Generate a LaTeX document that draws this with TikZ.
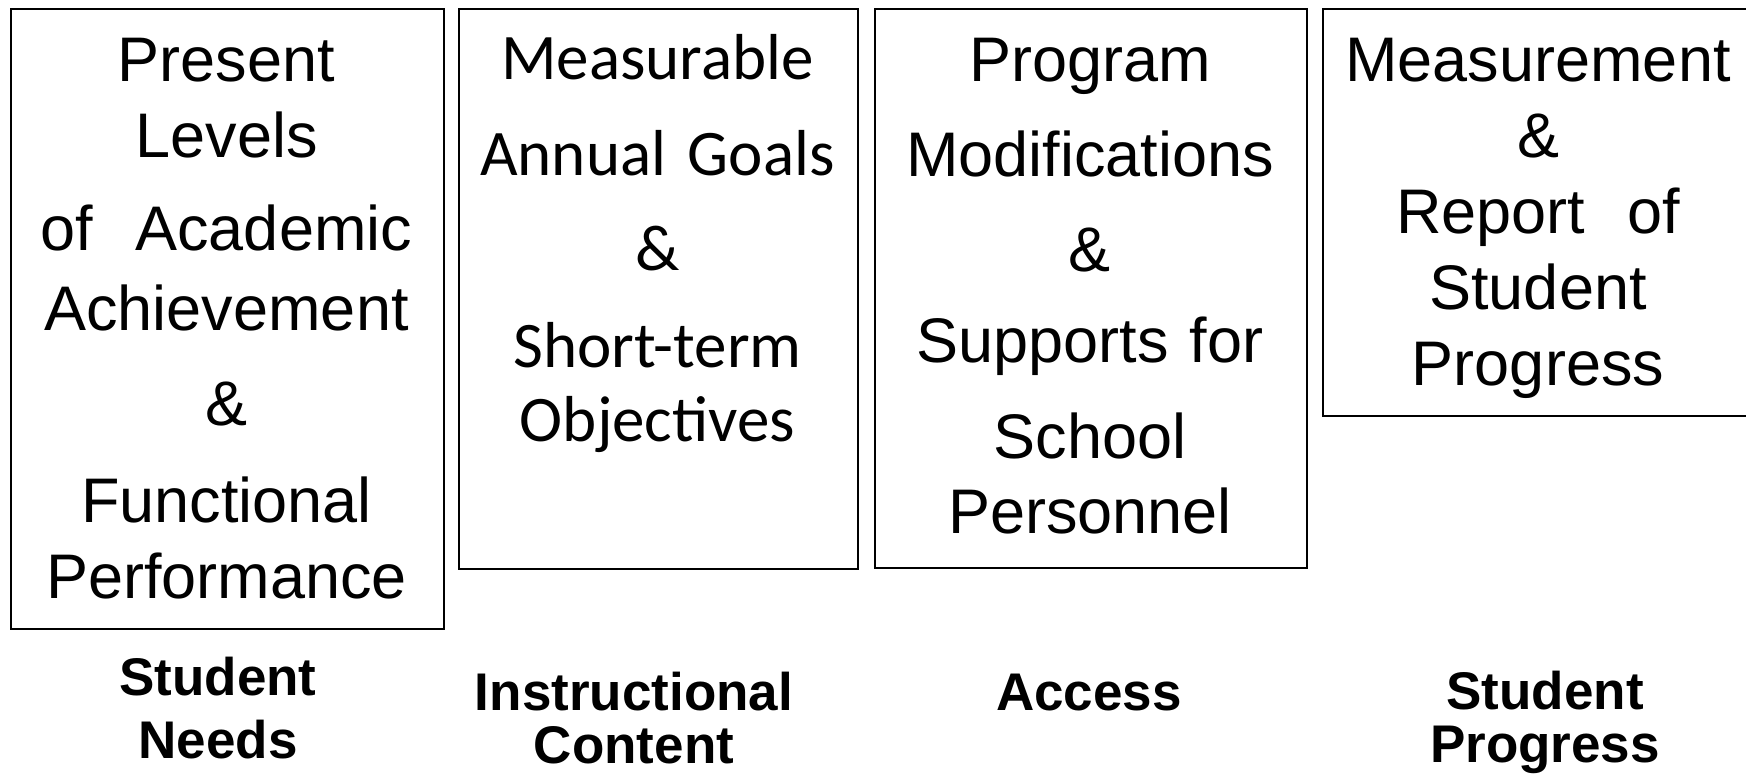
\documentclass[tikz,border=0pt]{standalone}
\usepackage{fontspec}
\setmainfont{Liberation Sans}
\newfontfamily\calibfont{Carlito}
\begin{document}
\begin{tikzpicture}[x=1pt,y=-1pt,
  box/.style={draw=black, line width=1.8pt, rectangle, inner sep=0pt, anchor=north west},
  boxtext/.style={anchor=base, inner sep=0pt, align=center, text width=425pt,
    font=\fontsize{63}{76}\selectfont},
  goaltext/.style={anchor=base, inner sep=0pt, align=center, text width=390pt,
    font=\calibfont\fontsize{65}{74}\selectfont},
  label/.style={anchor=base, inner sep=0pt, align=center, text width=400pt,
    font=\bfseries\fontsize{53}{56}\selectfont}]
\useasboundingbox (0,0) rectangle (1746,777);
% boxes
\node[box, minimum width=433pt, minimum height=620pt] (b1) at (10,8) {};
\node[box, minimum width=399pt, minimum height=560pt] (b2) at (458,8) {};
\node[box, minimum width=432pt, minimum height=559pt] (b3) at (874,8) {};
\node[box, minimum width=432pt, minimum height=407pt] (b4) at (1322,8) {};
% box texts
\node[boxtext] (t1) at (226.5,81) {Present\\Levels\\[17pt]of~~Academic\\[4pt]Achievement\\[19pt]\&\\[21pt]Functional\\Performance};
\node[goaltext] (t2) at (657.5,79) {Measurable\\[22pt]Annual Goals\\[21pt]\&\\[23pt]Short-term\\Objectives};
\node[boxtext, font=\fontsize{63}{75}\selectfont] (t3) at (1090,81) {Program\\[20pt]Modifications\\[20pt]\&\\[16pt]Supports for\\[21pt]School\\Personnel};
\node[boxtext] (t4) at (1538,81) {Measurement\\\&\\Report~~of\\Student\\Progress};
% category labels
\node[label] (l1) at (218,695) {Student\\[7pt]Needs};
\node[label] (l2) at (634,710) {Instructional\\[-3pt]Content};
\node[label] (l3) at (1089,710) {Access};
\node[label] (l4) at (1545,709) {Student\\[-3pt]Progress};
\end{tikzpicture}
\end{document}
